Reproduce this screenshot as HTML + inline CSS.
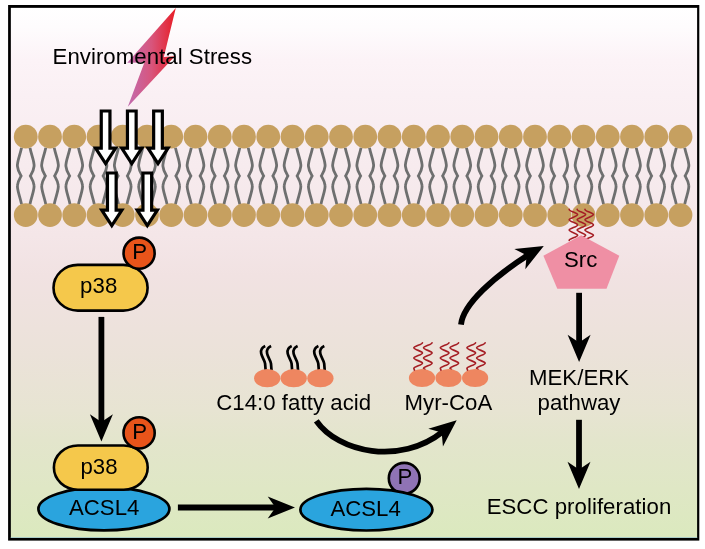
<!DOCTYPE html>
<html lang="en">
<head>
<meta charset="utf-8">
<title>Environmental stress - p38 - ACSL4 - Src pathway</title>
<style>
html,body{margin:0;padding:0;background:#fff;}
body{width:705px;height:549px;overflow:hidden;}
svg{display:block;will-change:transform;}
text{font-family:"Liberation Sans",Arial,Helvetica,sans-serif;font-size:22.2px;fill:#000;letter-spacing:0.05px;}
.ns{letter-spacing:0;}
.tail{fill:none;stroke:#6e6f6f;stroke-width:2.8;stroke-linecap:butt;stroke-linejoin:miter;}
.head{fill:#c6a060;}
.warrow{fill:#fff;stroke:#000;stroke-width:3.2;stroke-linejoin:miter;stroke-miterlimit:10;}
.blk{fill:#000;}
.shaft{fill:none;stroke:#000;stroke-width:5.8;}
.fa{fill:#ee8660;}
.btail{fill:none;stroke:#000;stroke-width:2.7;stroke-linecap:butt;}
.rtail{fill:none;stroke:#a51e24;stroke-width:1.65;stroke-linecap:round;}
</style>
</head>
<body>
<svg width="705" height="549" viewBox="0 0 705 549">
<defs>
<linearGradient id="bg" x1="0" y1="0" x2="0" y2="1">
<stop offset="0" stop-color="#ffffff"/>
<stop offset="0.035" stop-color="#fefcfd"/>
<stop offset="0.10" stop-color="#fcf3f7"/>
<stop offset="0.165" stop-color="#faf0f4"/>
<stop offset="0.43" stop-color="#f4e6e8"/>
<stop offset="0.505" stop-color="#f1e2e2"/>
<stop offset="0.655" stop-color="#ebe2d9"/>
<stop offset="0.76" stop-color="#e7e4d2"/>
<stop offset="0.815" stop-color="#e3e5cc"/>
<stop offset="1" stop-color="#dbe9be"/>
</linearGradient>
<linearGradient id="bolt" x1="0" y1="0" x2="1" y2="0">
<stop offset="0" stop-color="#c16cb0"/>
<stop offset="0.5" stop-color="#d8557c"/>
<stop offset="1" stop-color="#e81c24"/>
</linearGradient>
</defs>
<rect x="0" y="0" width="705" height="549" fill="#fff"/>
<rect x="8.1" y="5" width="691.2" height="535.6" fill="#000"/>
<rect x="10.85" y="7.85" width="686.25" height="530.15" fill="url(#bg)"/>
<rect x="10.85" y="537" width="686.25" height="1" fill="#a9cbc6"/>

<polygon points="175.8,8 127.3,62.8 144.4,62.6 127.8,106.7 174.8,56.3 163.8,57" fill="url(#bolt)"/>
<text x="152.3" y="63.6" text-anchor="middle">Enviromental Stress</text>
<path class="tail" d="M21.55,147.8 C19.75,156.3 16.95,161.8 17.45,166.3 C17.75,170.3 19.75,173.4 21.15,175.9 C19.75,178.4 17.75,181.4 17.45,185.4 C16.95,189.9 19.75,195.7 21.55,204.2"/>
<path class="tail" d="M29.95,147.8 C31.75,156.3 34.55,161.8 34.05,166.3 C33.75,170.3 31.75,173.4 30.35,175.9 C31.75,178.4 33.75,181.4 34.05,185.4 C34.55,189.9 31.75,195.7 29.95,204.2"/>
<path class="tail" d="M45.80,147.8 C44.00,156.3 41.20,161.8 41.70,166.3 C42.00,170.3 44.00,173.4 45.40,175.9 C44.00,178.4 42.00,181.4 41.70,185.4 C41.20,189.9 44.00,195.7 45.80,204.2"/>
<path class="tail" d="M54.20,147.8 C56.00,156.3 58.80,161.8 58.30,166.3 C58.00,170.3 56.00,173.4 54.60,175.9 C56.00,178.4 58.00,181.4 58.30,185.4 C58.80,189.9 56.00,195.7 54.20,204.2"/>
<path class="tail" d="M70.05,147.8 C68.25,156.3 65.45,161.8 65.95,166.3 C66.25,170.3 68.25,173.4 69.65,175.9 C68.25,178.4 66.25,181.4 65.95,185.4 C65.45,189.9 68.25,195.7 70.05,204.2"/>
<path class="tail" d="M78.45,147.8 C80.25,156.3 83.05,161.8 82.55,166.3 C82.25,170.3 80.25,173.4 78.85,175.9 C80.25,178.4 82.25,181.4 82.55,185.4 C83.05,189.9 80.25,195.7 78.45,204.2"/>
<path class="tail" d="M94.30,147.8 C92.50,156.3 89.70,161.8 90.20,166.3 C90.50,170.3 92.50,173.4 93.90,175.9 C92.50,178.4 90.50,181.4 90.20,185.4 C89.70,189.9 92.50,195.7 94.30,204.2"/>
<path class="tail" d="M102.70,147.8 C104.50,156.3 107.30,161.8 106.80,166.3 C106.50,170.3 104.50,173.4 103.10,175.9 C104.50,178.4 106.50,181.4 106.80,185.4 C107.30,189.9 104.50,195.7 102.70,204.2"/>
<path class="tail" d="M118.55,147.8 C116.75,156.3 113.95,161.8 114.45,166.3 C114.75,170.3 116.75,173.4 118.15,175.9 C116.75,178.4 114.75,181.4 114.45,185.4 C113.95,189.9 116.75,195.7 118.55,204.2"/>
<path class="tail" d="M126.95,147.8 C128.75,156.3 131.55,161.8 131.05,166.3 C130.75,170.3 128.75,173.4 127.35,175.9 C128.75,178.4 130.75,181.4 131.05,185.4 C131.55,189.9 128.75,195.7 126.95,204.2"/>
<path class="tail" d="M142.80,147.8 C141.00,156.3 138.20,161.8 138.70,166.3 C139.00,170.3 141.00,173.4 142.40,175.9 C141.00,178.4 139.00,181.4 138.70,185.4 C138.20,189.9 141.00,195.7 142.80,204.2"/>
<path class="tail" d="M151.20,147.8 C153.00,156.3 155.80,161.8 155.30,166.3 C155.00,170.3 153.00,173.4 151.60,175.9 C153.00,178.4 155.00,181.4 155.30,185.4 C155.80,189.9 153.00,195.7 151.20,204.2"/>
<path class="tail" d="M167.05,147.8 C165.25,156.3 162.45,161.8 162.95,166.3 C163.25,170.3 165.25,173.4 166.65,175.9 C165.25,178.4 163.25,181.4 162.95,185.4 C162.45,189.9 165.25,195.7 167.05,204.2"/>
<path class="tail" d="M175.45,147.8 C177.25,156.3 180.05,161.8 179.55,166.3 C179.25,170.3 177.25,173.4 175.85,175.9 C177.25,178.4 179.25,181.4 179.55,185.4 C180.05,189.9 177.25,195.7 175.45,204.2"/>
<path class="tail" d="M191.30,147.8 C189.50,156.3 186.70,161.8 187.20,166.3 C187.50,170.3 189.50,173.4 190.90,175.9 C189.50,178.4 187.50,181.4 187.20,185.4 C186.70,189.9 189.50,195.7 191.30,204.2"/>
<path class="tail" d="M199.70,147.8 C201.50,156.3 204.30,161.8 203.80,166.3 C203.50,170.3 201.50,173.4 200.10,175.9 C201.50,178.4 203.50,181.4 203.80,185.4 C204.30,189.9 201.50,195.7 199.70,204.2"/>
<path class="tail" d="M215.55,147.8 C213.75,156.3 210.95,161.8 211.45,166.3 C211.75,170.3 213.75,173.4 215.15,175.9 C213.75,178.4 211.75,181.4 211.45,185.4 C210.95,189.9 213.75,195.7 215.55,204.2"/>
<path class="tail" d="M223.95,147.8 C225.75,156.3 228.55,161.8 228.05,166.3 C227.75,170.3 225.75,173.4 224.35,175.9 C225.75,178.4 227.75,181.4 228.05,185.4 C228.55,189.9 225.75,195.7 223.95,204.2"/>
<path class="tail" d="M239.80,147.8 C238.00,156.3 235.20,161.8 235.70,166.3 C236.00,170.3 238.00,173.4 239.40,175.9 C238.00,178.4 236.00,181.4 235.70,185.4 C235.20,189.9 238.00,195.7 239.80,204.2"/>
<path class="tail" d="M248.20,147.8 C250.00,156.3 252.80,161.8 252.30,166.3 C252.00,170.3 250.00,173.4 248.60,175.9 C250.00,178.4 252.00,181.4 252.30,185.4 C252.80,189.9 250.00,195.7 248.20,204.2"/>
<path class="tail" d="M264.05,147.8 C262.25,156.3 259.45,161.8 259.95,166.3 C260.25,170.3 262.25,173.4 263.65,175.9 C262.25,178.4 260.25,181.4 259.95,185.4 C259.45,189.9 262.25,195.7 264.05,204.2"/>
<path class="tail" d="M272.45,147.8 C274.25,156.3 277.05,161.8 276.55,166.3 C276.25,170.3 274.25,173.4 272.85,175.9 C274.25,178.4 276.25,181.4 276.55,185.4 C277.05,189.9 274.25,195.7 272.45,204.2"/>
<path class="tail" d="M288.30,147.8 C286.50,156.3 283.70,161.8 284.20,166.3 C284.50,170.3 286.50,173.4 287.90,175.9 C286.50,178.4 284.50,181.4 284.20,185.4 C283.70,189.9 286.50,195.7 288.30,204.2"/>
<path class="tail" d="M296.70,147.8 C298.50,156.3 301.30,161.8 300.80,166.3 C300.50,170.3 298.50,173.4 297.10,175.9 C298.50,178.4 300.50,181.4 300.80,185.4 C301.30,189.9 298.50,195.7 296.70,204.2"/>
<path class="tail" d="M312.55,147.8 C310.75,156.3 307.95,161.8 308.45,166.3 C308.75,170.3 310.75,173.4 312.15,175.9 C310.75,178.4 308.75,181.4 308.45,185.4 C307.95,189.9 310.75,195.7 312.55,204.2"/>
<path class="tail" d="M320.95,147.8 C322.75,156.3 325.55,161.8 325.05,166.3 C324.75,170.3 322.75,173.4 321.35,175.9 C322.75,178.4 324.75,181.4 325.05,185.4 C325.55,189.9 322.75,195.7 320.95,204.2"/>
<path class="tail" d="M336.80,147.8 C335.00,156.3 332.20,161.8 332.70,166.3 C333.00,170.3 335.00,173.4 336.40,175.9 C335.00,178.4 333.00,181.4 332.70,185.4 C332.20,189.9 335.00,195.7 336.80,204.2"/>
<path class="tail" d="M345.20,147.8 C347.00,156.3 349.80,161.8 349.30,166.3 C349.00,170.3 347.00,173.4 345.60,175.9 C347.00,178.4 349.00,181.4 349.30,185.4 C349.80,189.9 347.00,195.7 345.20,204.2"/>
<path class="tail" d="M361.05,147.8 C359.25,156.3 356.45,161.8 356.95,166.3 C357.25,170.3 359.25,173.4 360.65,175.9 C359.25,178.4 357.25,181.4 356.95,185.4 C356.45,189.9 359.25,195.7 361.05,204.2"/>
<path class="tail" d="M369.45,147.8 C371.25,156.3 374.05,161.8 373.55,166.3 C373.25,170.3 371.25,173.4 369.85,175.9 C371.25,178.4 373.25,181.4 373.55,185.4 C374.05,189.9 371.25,195.7 369.45,204.2"/>
<path class="tail" d="M385.30,147.8 C383.50,156.3 380.70,161.8 381.20,166.3 C381.50,170.3 383.50,173.4 384.90,175.9 C383.50,178.4 381.50,181.4 381.20,185.4 C380.70,189.9 383.50,195.7 385.30,204.2"/>
<path class="tail" d="M393.70,147.8 C395.50,156.3 398.30,161.8 397.80,166.3 C397.50,170.3 395.50,173.4 394.10,175.9 C395.50,178.4 397.50,181.4 397.80,185.4 C398.30,189.9 395.50,195.7 393.70,204.2"/>
<path class="tail" d="M409.55,147.8 C407.75,156.3 404.95,161.8 405.45,166.3 C405.75,170.3 407.75,173.4 409.15,175.9 C407.75,178.4 405.75,181.4 405.45,185.4 C404.95,189.9 407.75,195.7 409.55,204.2"/>
<path class="tail" d="M417.95,147.8 C419.75,156.3 422.55,161.8 422.05,166.3 C421.75,170.3 419.75,173.4 418.35,175.9 C419.75,178.4 421.75,181.4 422.05,185.4 C422.55,189.9 419.75,195.7 417.95,204.2"/>
<path class="tail" d="M433.80,147.8 C432.00,156.3 429.20,161.8 429.70,166.3 C430.00,170.3 432.00,173.4 433.40,175.9 C432.00,178.4 430.00,181.4 429.70,185.4 C429.20,189.9 432.00,195.7 433.80,204.2"/>
<path class="tail" d="M442.20,147.8 C444.00,156.3 446.80,161.8 446.30,166.3 C446.00,170.3 444.00,173.4 442.60,175.9 C444.00,178.4 446.00,181.4 446.30,185.4 C446.80,189.9 444.00,195.7 442.20,204.2"/>
<path class="tail" d="M458.05,147.8 C456.25,156.3 453.45,161.8 453.95,166.3 C454.25,170.3 456.25,173.4 457.65,175.9 C456.25,178.4 454.25,181.4 453.95,185.4 C453.45,189.9 456.25,195.7 458.05,204.2"/>
<path class="tail" d="M466.45,147.8 C468.25,156.3 471.05,161.8 470.55,166.3 C470.25,170.3 468.25,173.4 466.85,175.9 C468.25,178.4 470.25,181.4 470.55,185.4 C471.05,189.9 468.25,195.7 466.45,204.2"/>
<path class="tail" d="M482.30,147.8 C480.50,156.3 477.70,161.8 478.20,166.3 C478.50,170.3 480.50,173.4 481.90,175.9 C480.50,178.4 478.50,181.4 478.20,185.4 C477.70,189.9 480.50,195.7 482.30,204.2"/>
<path class="tail" d="M490.70,147.8 C492.50,156.3 495.30,161.8 494.80,166.3 C494.50,170.3 492.50,173.4 491.10,175.9 C492.50,178.4 494.50,181.4 494.80,185.4 C495.30,189.9 492.50,195.7 490.70,204.2"/>
<path class="tail" d="M506.55,147.8 C504.75,156.3 501.95,161.8 502.45,166.3 C502.75,170.3 504.75,173.4 506.15,175.9 C504.75,178.4 502.75,181.4 502.45,185.4 C501.95,189.9 504.75,195.7 506.55,204.2"/>
<path class="tail" d="M514.95,147.8 C516.75,156.3 519.55,161.8 519.05,166.3 C518.75,170.3 516.75,173.4 515.35,175.9 C516.75,178.4 518.75,181.4 519.05,185.4 C519.55,189.9 516.75,195.7 514.95,204.2"/>
<path class="tail" d="M530.80,147.8 C529.00,156.3 526.20,161.8 526.70,166.3 C527.00,170.3 529.00,173.4 530.40,175.9 C529.00,178.4 527.00,181.4 526.70,185.4 C526.20,189.9 529.00,195.7 530.80,204.2"/>
<path class="tail" d="M539.20,147.8 C541.00,156.3 543.80,161.8 543.30,166.3 C543.00,170.3 541.00,173.4 539.60,175.9 C541.00,178.4 543.00,181.4 543.30,185.4 C543.80,189.9 541.00,195.7 539.20,204.2"/>
<path class="tail" d="M555.05,147.8 C553.25,156.3 550.45,161.8 550.95,166.3 C551.25,170.3 553.25,173.4 554.65,175.9 C553.25,178.4 551.25,181.4 550.95,185.4 C550.45,189.9 553.25,195.7 555.05,204.2"/>
<path class="tail" d="M563.45,147.8 C565.25,156.3 568.05,161.8 567.55,166.3 C567.25,170.3 565.25,173.4 563.85,175.9 C565.25,178.4 567.25,181.4 567.55,185.4 C568.05,189.9 565.25,195.7 563.45,204.2"/>
<path class="tail" d="M579.30,147.8 C577.50,156.3 574.70,161.8 575.20,166.3 C575.50,170.3 577.50,173.4 578.90,175.9 C577.50,178.4 575.50,181.4 575.20,185.4 C574.70,189.9 577.50,195.7 579.30,204.2"/>
<path class="tail" d="M587.70,147.8 C589.50,156.3 592.30,161.8 591.80,166.3 C591.50,170.3 589.50,173.4 588.10,175.9 C589.50,178.4 591.50,181.4 591.80,185.4 C592.30,189.9 589.50,195.7 587.70,204.2"/>
<path class="tail" d="M603.55,147.8 C601.75,156.3 598.95,161.8 599.45,166.3 C599.75,170.3 601.75,173.4 603.15,175.9 C601.75,178.4 599.75,181.4 599.45,185.4 C598.95,189.9 601.75,195.7 603.55,204.2"/>
<path class="tail" d="M611.95,147.8 C613.75,156.3 616.55,161.8 616.05,166.3 C615.75,170.3 613.75,173.4 612.35,175.9 C613.75,178.4 615.75,181.4 616.05,185.4 C616.55,189.9 613.75,195.7 611.95,204.2"/>
<path class="tail" d="M627.80,147.8 C626.00,156.3 623.20,161.8 623.70,166.3 C624.00,170.3 626.00,173.4 627.40,175.9 C626.00,178.4 624.00,181.4 623.70,185.4 C623.20,189.9 626.00,195.7 627.80,204.2"/>
<path class="tail" d="M636.20,147.8 C638.00,156.3 640.80,161.8 640.30,166.3 C640.00,170.3 638.00,173.4 636.60,175.9 C638.00,178.4 640.00,181.4 640.30,185.4 C640.80,189.9 638.00,195.7 636.20,204.2"/>
<path class="tail" d="M652.05,147.8 C650.25,156.3 647.45,161.8 647.95,166.3 C648.25,170.3 650.25,173.4 651.65,175.9 C650.25,178.4 648.25,181.4 647.95,185.4 C647.45,189.9 650.25,195.7 652.05,204.2"/>
<path class="tail" d="M660.45,147.8 C662.25,156.3 665.05,161.8 664.55,166.3 C664.25,170.3 662.25,173.4 660.85,175.9 C662.25,178.4 664.25,181.4 664.55,185.4 C665.05,189.9 662.25,195.7 660.45,204.2"/>
<path class="tail" d="M676.30,147.8 C674.50,156.3 671.70,161.8 672.20,166.3 C672.50,170.3 674.50,173.4 675.90,175.9 C674.50,178.4 672.50,181.4 672.20,185.4 C671.70,189.9 674.50,195.7 676.30,204.2"/>
<path class="tail" d="M684.70,147.8 C686.50,156.3 689.30,161.8 688.80,166.3 C688.50,170.3 686.50,173.4 685.10,175.9 C686.50,178.4 688.50,181.4 688.80,185.4 C689.30,189.9 686.50,195.7 684.70,204.2"/>
<circle class="head" cx="25.75" cy="136.7" r="11.9"/>
<circle class="head" cx="25.75" cy="215.1" r="11.9"/>
<circle class="head" cx="50.00" cy="136.7" r="11.9"/>
<circle class="head" cx="50.00" cy="215.1" r="11.9"/>
<circle class="head" cx="74.25" cy="136.7" r="11.9"/>
<circle class="head" cx="74.25" cy="215.1" r="11.9"/>
<circle class="head" cx="98.50" cy="136.7" r="11.9"/>
<circle class="head" cx="98.50" cy="215.1" r="11.9"/>
<circle class="head" cx="122.75" cy="136.7" r="11.9"/>
<circle class="head" cx="122.75" cy="215.1" r="11.9"/>
<circle class="head" cx="147.00" cy="136.7" r="11.9"/>
<circle class="head" cx="147.00" cy="215.1" r="11.9"/>
<circle class="head" cx="171.25" cy="136.7" r="11.9"/>
<circle class="head" cx="171.25" cy="215.1" r="11.9"/>
<circle class="head" cx="195.50" cy="136.7" r="11.9"/>
<circle class="head" cx="195.50" cy="215.1" r="11.9"/>
<circle class="head" cx="219.75" cy="136.7" r="11.9"/>
<circle class="head" cx="219.75" cy="215.1" r="11.9"/>
<circle class="head" cx="244.00" cy="136.7" r="11.9"/>
<circle class="head" cx="244.00" cy="215.1" r="11.9"/>
<circle class="head" cx="268.25" cy="136.7" r="11.9"/>
<circle class="head" cx="268.25" cy="215.1" r="11.9"/>
<circle class="head" cx="292.50" cy="136.7" r="11.9"/>
<circle class="head" cx="292.50" cy="215.1" r="11.9"/>
<circle class="head" cx="316.75" cy="136.7" r="11.9"/>
<circle class="head" cx="316.75" cy="215.1" r="11.9"/>
<circle class="head" cx="341.00" cy="136.7" r="11.9"/>
<circle class="head" cx="341.00" cy="215.1" r="11.9"/>
<circle class="head" cx="365.25" cy="136.7" r="11.9"/>
<circle class="head" cx="365.25" cy="215.1" r="11.9"/>
<circle class="head" cx="389.50" cy="136.7" r="11.9"/>
<circle class="head" cx="389.50" cy="215.1" r="11.9"/>
<circle class="head" cx="413.75" cy="136.7" r="11.9"/>
<circle class="head" cx="413.75" cy="215.1" r="11.9"/>
<circle class="head" cx="438.00" cy="136.7" r="11.9"/>
<circle class="head" cx="438.00" cy="215.1" r="11.9"/>
<circle class="head" cx="462.25" cy="136.7" r="11.9"/>
<circle class="head" cx="462.25" cy="215.1" r="11.9"/>
<circle class="head" cx="486.50" cy="136.7" r="11.9"/>
<circle class="head" cx="486.50" cy="215.1" r="11.9"/>
<circle class="head" cx="510.75" cy="136.7" r="11.9"/>
<circle class="head" cx="510.75" cy="215.1" r="11.9"/>
<circle class="head" cx="535.00" cy="136.7" r="11.9"/>
<circle class="head" cx="535.00" cy="215.1" r="11.9"/>
<circle class="head" cx="559.25" cy="136.7" r="11.9"/>
<circle class="head" cx="559.25" cy="215.1" r="11.9"/>
<circle class="head" cx="583.50" cy="136.7" r="11.9"/>
<circle class="head" cx="583.50" cy="215.1" r="11.9"/>
<circle class="head" cx="607.75" cy="136.7" r="11.9"/>
<circle class="head" cx="607.75" cy="215.1" r="11.9"/>
<circle class="head" cx="632.00" cy="136.7" r="11.9"/>
<circle class="head" cx="632.00" cy="215.1" r="11.9"/>
<circle class="head" cx="656.25" cy="136.7" r="11.9"/>
<circle class="head" cx="656.25" cy="215.1" r="11.9"/>
<circle class="head" cx="680.50" cy="136.7" r="11.9"/>
<circle class="head" cx="680.50" cy="215.1" r="11.9"/>
<path class="rtail" d="M569.20,209.40 C569.20,211.28 577.60,212.69 577.60,214.57 C577.60,216.45 569.20,217.86 569.20,219.74 C569.20,221.62 577.60,223.03 577.60,224.91 C577.60,226.79 569.20,228.20 569.20,230.08 C569.20,231.96 577.60,233.37 577.60,235.25 C577.60,237.13 569.20,238.54 569.20,240.42"/>
<path class="rtail" d="M577.20,209.40 C577.20,211.28 585.60,212.69 585.60,214.57 C585.60,216.45 577.20,217.86 577.20,219.74 C577.20,221.62 585.60,223.03 585.60,224.91 C585.60,226.79 577.20,228.20 577.20,230.08 C577.20,231.96 585.60,233.37 585.60,235.25 C585.60,237.13 577.20,238.54 577.20,240.42"/>
<path class="rtail" d="M585.00,209.40 C585.00,211.28 593.40,212.69 593.40,214.57 C593.40,216.45 585.00,217.86 585.00,219.74 C585.00,221.62 593.40,223.03 593.40,224.91 C593.40,226.79 585.00,228.20 585.00,230.08 C585.00,231.96 593.40,233.37 593.40,235.25 C593.40,237.13 585.00,238.54 585.00,240.42"/>
<polygon points="581.2,235.2 619.3,255.8 606.5,288.7 557.3,288.7 543.4,255.8" fill="#ef8fa4"/>
<text x="580.6" y="267.3" text-anchor="middle">Src</text>
<polygon class="warrow" points="101.25,111.00 109.95,111.00 109.95,148.20 115.65,148.20 105.60,163.60 95.55,148.20 101.25,148.20"/>
<polygon class="warrow" points="127.45,111.00 136.15,111.00 136.15,148.20 141.85,148.20 131.80,163.60 121.75,148.20 127.45,148.20"/>
<polygon class="warrow" points="153.65,111.00 162.35,111.00 162.35,148.20 168.05,148.20 158.00,163.60 147.95,148.20 153.65,148.20"/>
<polygon class="warrow" points="107.45,173.00 116.15,173.00 116.15,210.20 121.85,210.20 111.80,225.60 101.75,210.20 107.45,210.20"/>
<polygon class="warrow" points="142.95,173.00 151.65,173.00 151.65,210.20 157.35,210.20 147.30,225.60 137.25,210.20 142.95,210.20"/>
<rect x="53.5" y="264.9" width="94.1" height="45.7" rx="24.3" ry="22.85" fill="#f5c84b" stroke="#000" stroke-width="2.6"/>
<text x="98.7" y="293.1" text-anchor="middle">p38</text>
<circle cx="139.1" cy="253.2" r="15.55" fill="#e8541a" stroke="#000" stroke-width="2.6"/>
<text x="139.6" y="259.1" text-anchor="middle" class="ns">P</text>
<line class="shaft" x1="101.4" y1="316.9" x2="101.4" y2="424" />
<polygon class="blk" points="101.40,441.50 89.90,414.20 101.40,422.00 112.90,414.20"/>
<ellipse cx="103.9" cy="508.9" rx="65.5" ry="21.5" fill="#2aa4de" stroke="#000" stroke-width="2.7"/>
<rect x="53.9" y="445.5" width="93.8" height="44.2" rx="24" ry="22.1" fill="#f5c84b" stroke="#000" stroke-width="2.6"/>
<text x="99" y="474" text-anchor="middle">p38</text>
<circle cx="139.1" cy="432.9" r="15.6" fill="#e8541a" stroke="#000" stroke-width="2.6"/>
<text x="139.6" y="438.8" text-anchor="middle" class="ns">P</text>
<text x="104.2" y="515.1" text-anchor="middle" class="ns">ACSL4</text>
<line class="shaft" x1="177.9" y1="507.5" x2="278" y2="507.5" />
<polygon class="blk" points="295.00,507.50 267.70,518.40 275.50,507.50 267.70,496.60"/>
<circle cx="404.25" cy="478.3" r="15.45" fill="#8f73b5" stroke="#000" stroke-width="2.6"/>
<text x="404.8" y="483.9" text-anchor="middle" class="ns">P</text>
<ellipse cx="366.4" cy="509.7" rx="66.0" ry="20.8" fill="#2aa4de" stroke="#000" stroke-width="2.7"/>
<text x="365.6" y="515.6" text-anchor="middle" class="ns">ACSL4</text>
<path class="btail" d="M265.20,346.0 C262.00,347.5 260.50,350.5 261.20,353.5 C262.00,357.5 264.90,360.5 265.10,363.6 L265.60,370"/>
<path class="btail" d="M271.10,346.0 C267.90,347.5 266.40,350.5 267.10,353.5 C267.90,357.5 270.80,360.5 271.00,363.6 L271.50,370"/>
<ellipse class="fa" cx="267.2" cy="378.2" rx="13.15" ry="9.1"/>
<path class="btail" d="M291.70,346.0 C288.50,347.5 287.00,350.5 287.70,353.5 C288.50,357.5 291.40,360.5 291.60,363.6 L292.10,370"/>
<path class="btail" d="M297.60,346.0 C294.40,347.5 292.90,350.5 293.60,353.5 C294.40,357.5 297.30,360.5 297.50,363.6 L298.00,370"/>
<ellipse class="fa" cx="293.7" cy="378.2" rx="13.15" ry="9.1"/>
<path class="btail" d="M318.40,346.0 C315.20,347.5 313.70,350.5 314.40,353.5 C315.20,357.5 318.10,360.5 318.30,363.6 L318.80,370"/>
<path class="btail" d="M324.30,346.0 C321.10,347.5 319.60,350.5 320.30,353.5 C321.10,357.5 324.00,360.5 324.20,363.6 L324.70,370"/>
<ellipse class="fa" cx="320.4" cy="378.2" rx="13.15" ry="9.1"/>
<text x="293.7" y="409.6" text-anchor="middle">C14:0 fatty acid</text>
<path class="rtail" d="M422.45,342.70 C422.45,344.56 413.85,345.96 413.85,347.82 C413.85,349.68 422.45,351.08 422.45,352.94 C422.45,354.80 413.85,356.20 413.85,358.06 C413.85,359.92 422.45,361.32 422.45,363.18 C422.45,365.04 413.85,366.44 413.85,368.30 l0.8,2.5"/>
<path class="rtail" d="M432.05,342.70 C432.05,344.56 423.55,345.96 423.55,347.82 C423.55,349.68 432.05,351.08 432.05,352.94 C432.05,354.80 423.55,356.20 423.55,358.06 C423.55,359.92 432.05,361.32 432.05,363.18 C432.05,365.04 423.55,366.44 423.55,368.30 l1.4,1.2"/>
<ellipse class="fa" cx="422" cy="378" rx="13.1" ry="9.1"/>
<path class="rtail" d="M448.95,342.70 C448.95,344.56 440.35,345.96 440.35,347.82 C440.35,349.68 448.95,351.08 448.95,352.94 C448.95,354.80 440.35,356.20 440.35,358.06 C440.35,359.92 448.95,361.32 448.95,363.18 C448.95,365.04 440.35,366.44 440.35,368.30 l0.8,2.5"/>
<path class="rtail" d="M458.55,342.70 C458.55,344.56 450.05,345.96 450.05,347.82 C450.05,349.68 458.55,351.08 458.55,352.94 C458.55,354.80 450.05,356.20 450.05,358.06 C450.05,359.92 458.55,361.32 458.55,363.18 C458.55,365.04 450.05,366.44 450.05,368.30 l1.4,1.2"/>
<ellipse class="fa" cx="448.5" cy="378" rx="13.1" ry="9.1"/>
<path class="rtail" d="M475.55,342.70 C475.55,344.56 466.95,345.96 466.95,347.82 C466.95,349.68 475.55,351.08 475.55,352.94 C475.55,354.80 466.95,356.20 466.95,358.06 C466.95,359.92 475.55,361.32 475.55,363.18 C475.55,365.04 466.95,366.44 466.95,368.30 l0.8,2.5"/>
<path class="rtail" d="M485.15,342.70 C485.15,344.56 476.65,345.96 476.65,347.82 C476.65,349.68 485.15,351.08 485.15,352.94 C485.15,354.80 476.65,356.20 476.65,358.06 C476.65,359.92 485.15,361.32 485.15,363.18 C485.15,365.04 476.65,366.44 476.65,368.30 l1.4,1.2"/>
<ellipse class="fa" cx="475.1" cy="378" rx="13.1" ry="9.1"/>
<text x="448.4" y="409.6" text-anchor="middle">Myr-CoA</text>
<path class="shaft" d="M316.3,420.8 C338,452 400,466 443,431.5"/>
<polygon class="blk" points="456.70,420.20 442.95,446.44 441.65,432.60 428.32,428.69"/>
<path class="shaft" d="M461,324.6 C463,304 495,276 528.5,254.8"/>
<polygon class="blk" points="543.80,246.00 525.30,269.13 526.66,255.30 514.32,248.92"/>
<line class="shaft" x1="579.1" y1="292.8" x2="579.1" y2="344.5" />
<polygon class="blk" points="579.10,362.10 567.60,334.80 579.10,342.60 590.60,334.80"/>
<text x="579.1" y="384.6" text-anchor="middle">MEK/ERK</text>
<text x="579" y="410.1" text-anchor="middle">pathway</text>
<line class="shaft" x1="579" y1="419.8" x2="579" y2="472" />
<polygon class="blk" points="579.00,489.00 567.50,461.70 579.00,469.50 590.50,461.70"/>
<text x="579" y="514.3" text-anchor="middle">ESCC proliferation</text>
</svg>
</body>
</html>
